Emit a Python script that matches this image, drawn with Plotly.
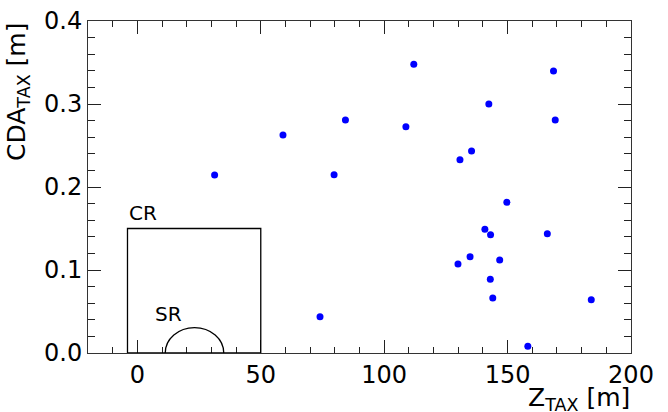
import plotly.graph_objects as go

z_tax = [31.3, 59.0, 79.7, 84.3, 112.0, 108.8, 130.7, 135.4, 142.4, 149.7, 168.6, 169.3,
         140.8, 143.1, 166.1, 129.9, 134.8, 146.8, 143.0, 144.0, 183.9, 158.2, 74.0]
cda_tax = [0.2145, 0.2627, 0.2148, 0.2807, 0.348, 0.2727, 0.2329, 0.2434, 0.300, 0.1815, 0.3398, 0.2807,
           0.149, 0.1426, 0.1438, 0.1072, 0.116, 0.112, 0.0888, 0.0663, 0.0643, 0.0081, 0.0438]

x_ticks = [0, 50, 100, 150, 200]
y_ticks = [0.0, 0.1, 0.2, 0.3, 0.4]
y_ticklabels = ["0.0", "0.1", "0.2", "0.3", "0.4"]

FONT = "DejaVu Sans"

fig = go.Figure()
fig.add_trace(go.Scatter(
    x=z_tax, y=cda_tax, mode="markers",
    marker=dict(color="#0000ff", size=7, line=dict(width=0)),
    showlegend=False, cliponaxis=False,
))

axis_common = dict(
    showgrid=False, zeroline=False, showline=True, linecolor="#333", linewidth=1,
    ticks="inside", ticklen=13, tickwidth=1.2, tickcolor="#222", mirror="allticks",
    tickfont=dict(family=FONT, size=24, color="black"), automargin=False,
)

fig.update_layout(
    width=668, height=412,
    margin=dict(l=88, r=37, t=21, b=59, autoexpand=False),
    paper_bgcolor="white", plot_bgcolor="white",
    font=dict(family=FONT, color="black"),
    xaxis=dict(range=[-20, 200], tickvals=x_ticks, ticktext=[str(v) for v in x_ticks],
               minor=dict(dtick=10, tick0=0, ticks="inside", ticklen=6, tickwidth=1.2, tickcolor="#222"),
               **axis_common),
    yaxis=dict(range=[0, 0.4], tickvals=y_ticks, ticktext=y_ticklabels,
               minor=dict(dtick=0.02, tick0=0, ticks="inside", ticklen=7, tickwidth=1.2, tickcolor="#222"),
               **axis_common),
    shapes=[
        dict(type="rect", xref="x", yref="y", x0=-4, x1=50, y0=0, y1=0.15,
             line=dict(color="black", width=1.3), fillcolor="rgba(0,0,0,0)"),
        dict(type="circle", xref="x", yref="y", x0=11.3, x1=35, y0=-0.0305, y1=0.0305,
             line=dict(color="black", width=1.3), fillcolor="rgba(0,0,0,0)"),
    ],
    annotations=[
        dict(text="CR", x=-4, y=0.15, xref="x", yref="y", xanchor="left", yanchor="bottom",
             showarrow=False, yshift=2, font=dict(family=FONT, size=20, color="black")),
        dict(text="SR", x=6.3, y=0.03, xref="x", yref="y", xanchor="left", yanchor="bottom",
             showarrow=False, font=dict(family=FONT, size=20, color="black")),
        dict(text="CDA<sub>TAX</sub> [m]", x=0, y=1, xref="paper", yref="paper",
             xanchor="right", yanchor="top", xshift=-52, textangle=-90, showarrow=False,
             font=dict(family=FONT, size=25, color="black")),
        dict(text="Z<sub>TAX</sub> [m]", x=1, y=0, xref="paper", yref="paper",
             xanchor="right", yanchor="bottom", yshift=-63, borderpad=0, showarrow=False,
             font=dict(family=FONT, size=25, color="black")),
    ],
)

fig.write_html("out.html", config={"displayModeBar": False},
               post_script="document.body.style.margin='0';document.body.style.overflow='hidden';")
